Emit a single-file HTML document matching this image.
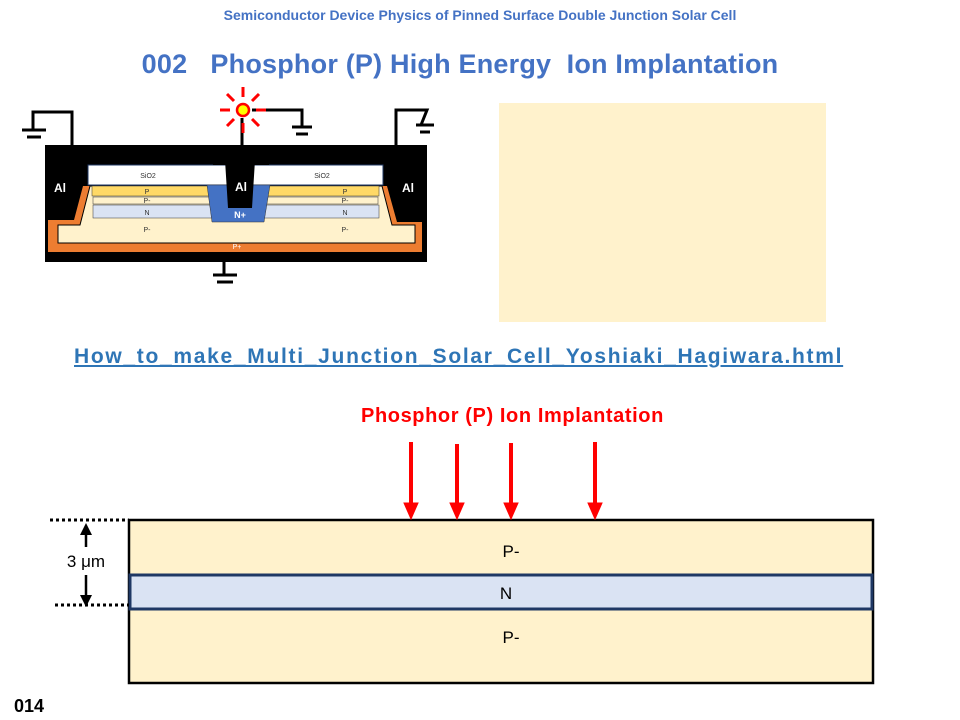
<!DOCTYPE html>
<html><head><meta charset="utf-8"><style>
body{margin:0;width:960px;height:720px;background:#fff;overflow:hidden;position:relative;font-family:"Liberation Sans",sans-serif}
.t{position:absolute;white-space:nowrap}
</style></head><body>
<div class="t" style="left:0;width:960px;text-align:center;top:7px;font-size:14px;font-weight:bold;color:#4472c4">Semiconductor Device Physics of Pinned Surface Double Junction Solar Cell</div>
<div class="t" style="left:0;width:920px;text-align:center;top:49px;font-size:27px;font-weight:bold;color:#4472c4;letter-spacing:0.2px">002&nbsp;&nbsp; Phosphor (P) High Energy&nbsp; Ion Implantation</div>
<div style="position:absolute;left:499px;top:103px;width:327px;height:219px;background:#fff2cc"></div>
<div class="t" style="left:74px;top:345px;font-size:21px;font-weight:bold;color:#2e75b6;text-decoration:underline;letter-spacing:1.7px">How_to_make_Multi_Junction_Solar_Cell_Yoshiaki_Hagiwara.html</div>
<div class="t" style="left:361px;top:405px;font-size:20px;font-weight:bold;color:#ff0000;letter-spacing:0.6px">Phosphor (P) Ion Implantation</div>
<div class="t" style="left:14px;top:696px;font-size:18px;font-weight:bold;color:#000">014</div>
<svg width="960" height="720" style="position:absolute;left:0;top:0" font-family="Liberation Sans, sans-serif">
<rect x="45" y="145" width="382" height="117" fill="#000"/>
<rect x="48" y="186" width="374" height="66" fill="#ed7d31"/>
<polygon points="90,186 382,186 392,225 415,225 415,243 58,243 58,225 80,225" fill="#fff2cc" stroke="#000" stroke-width="1"/>
<polygon points="45,145 88,145 88,186 83,186 74,220 45,220" fill="#000"/>
<polygon points="376,145 427,145 427,222 397,222 387,186 376,186" fill="#000"/>
<rect x="88" y="165" width="295" height="20" fill="#fff" stroke="#1f3864" stroke-width="1"/>
<rect x="92" y="186" width="287" height="10" fill="#ffd966" stroke="#333" stroke-width=".5"/>
<rect x="93" y="197" width="285" height="7" fill="#fff2cc" stroke="#333" stroke-width=".5"/>
<rect x="93" y="205" width="286" height="13" fill="#dae3f3" stroke="#333" stroke-width=".5"/>
<polygon points="207,185 270,185 264,222 212,222" fill="#4472c4" stroke="#333" stroke-width=".5"/>
<rect x="213" y="148" width="56" height="17" fill="#000"/>
<polygon points="225,160 255,160 252,208 228,208" fill="#000"/>
<text x="241" y="191" font-size="12" font-weight="bold" fill="#fff" text-anchor="middle">Al</text>
<text x="240" y="218" font-size="9" font-weight="bold" fill="#fff" text-anchor="middle">N+</text>
<text x="60" y="192" font-size="12" font-weight="bold" fill="#fff" text-anchor="middle">Al</text>
<text x="408" y="192" font-size="12" font-weight="bold" fill="#fff" text-anchor="middle">Al</text>
<g font-size="7" fill="#333" text-anchor="middle">
<text x="148" y="178">SiO2</text><text x="322" y="178">SiO2</text>
<text x="147" y="194">P</text><text x="345" y="194">P</text>
<text x="147" y="203">P-</text><text x="345" y="203">P-</text>
<text x="147" y="215">N</text><text x="345" y="215">N</text>
<text x="147" y="232">P-</text><text x="345" y="232">P-</text>
<text x="237" y="249" fill="#fff">P+</text></g>
<g stroke="#000" stroke-width="3" fill="none">
<polyline points="72,145 72,112 33,112 33,130"/>
<line x1="22" y1="130" x2="46" y2="130"/><line x1="27" y1="137" x2="41" y2="137"/>
<line x1="242" y1="148" x2="242" y2="118"/>
<polyline points="252,110 302,110 302,127"/>
<line x1="292" y1="127" x2="312" y2="127"/><line x1="296" y1="134" x2="308" y2="134"/>
<polyline points="396,145 396,110 427,110 421,125"/>
<line x1="416" y1="125" x2="434" y2="125"/><line x1="420" y1="132" x2="430" y2="132"/>
<line x1="224" y1="262" x2="224" y2="275"/>
<line x1="213" y1="275" x2="237" y2="275"/><line x1="217" y1="282" x2="233" y2="282"/>
</g>
<g stroke="#ff0000" stroke-width="3">
<line x1="243" y1="87" x2="243" y2="97"/><line x1="243" y1="123" x2="243" y2="133"/>
<line x1="220" y1="110" x2="230" y2="110"/><line x1="256" y1="110" x2="266" y2="110"/>
<line x1="227" y1="94" x2="234" y2="101"/><line x1="252" y1="119" x2="259" y2="126"/>
<line x1="259" y1="94" x2="252" y2="101"/><line x1="234" y1="119" x2="227" y2="126"/>
</g>
<circle cx="243" cy="110" r="6" fill="#ffff00" stroke="#ff0000" stroke-width="2.5"/>
<rect x="129" y="520" width="744" height="163" fill="#fff2cc" stroke="#000" stroke-width="2.5"/>
<rect x="130" y="575" width="742" height="34" fill="#dae3f3" stroke="#1f3864" stroke-width="3"/>
<text x="511" y="557" font-size="17" text-anchor="middle">P-</text>
<text x="506" y="599" font-size="17" text-anchor="middle">N</text>
<text x="511" y="643" font-size="17" text-anchor="middle">P-</text>
<g stroke="#000" stroke-width="3" stroke-dasharray="3,3">
<line x1="50" y1="520" x2="129" y2="520"/><line x1="55" y1="605" x2="129" y2="605"/></g>
<text x="86" y="567" font-size="17" text-anchor="middle">3 μm</text>
<line x1="86" y1="533" x2="86" y2="547" stroke="#000" stroke-width="2.5"/>
<polygon points="80,535 92,535 86,523" fill="#000"/>
<line x1="86" y1="575" x2="86" y2="597" stroke="#000" stroke-width="2.5"/>
<polygon points="80,595 92,595 86,607" fill="#000"/>
<g fill="#ff0000" stroke="#ff0000">
<line x1="411" y1="442" x2="411" y2="505" stroke-width="4"/><polygon points="404,503 418,503 411,519"/>
<line x1="457" y1="444" x2="457" y2="505" stroke-width="4"/><polygon points="450,503 464,503 457,519"/>
<line x1="511" y1="443" x2="511" y2="505" stroke-width="4"/><polygon points="504,503 518,503 511,519"/>
<line x1="595" y1="442" x2="595" y2="505" stroke-width="4"/><polygon points="588,503 602,503 595,519"/>
</g>
</svg>
</body></html>
